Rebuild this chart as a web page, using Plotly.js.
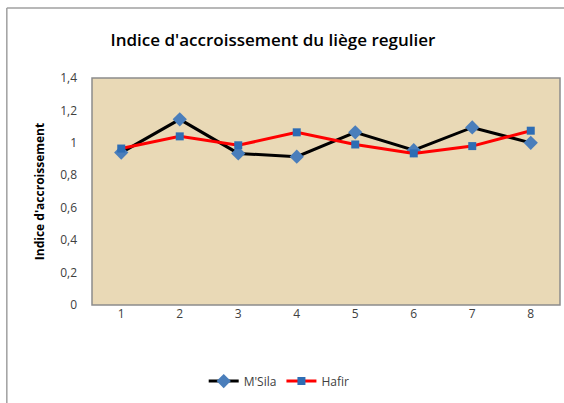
<!DOCTYPE html>
<html>
<head>
<meta charset="utf-8">
<script src="https://cdn.plot.ly/plotly-3.0.1.min.js"></script>
<style>html,body{margin:0;padding:0;background:#fff;}#chart{width:564px;height:403px;}</style>
</head>
<body>
<div id="chart"></div>
<script>
var categories = ['1','2','3','4','5','6','7','8'];
var msila = [0.94, 1.145, 0.935, 0.915, 1.065, 0.955, 1.095, 1.0];
var hafir = [0.965, 1.04, 0.985, 1.065, 0.99, 0.935, 0.98, 1.075];
var yTickVals = [0, 0.2, 0.4, 0.6, 0.8, 1, 1.2, 1.4];
var yTickText = ['0', '0,2', '0,4', '0,6', '0,8', '1', '1,2', '1,4'];

var font = 'Open Sans, Noto Sans, sans-serif';
var traces = [
  {x: categories, y: msila, name: "M'Sila", type: 'scatter', mode: 'lines+markers',
   line: {color: '#000000', width: 3},
   marker: {symbol: 'diamond', size: 11, color: '#4A7EBB'}},
  {x: categories, y: hafir, name: 'Hafir', type: 'scatter', mode: 'lines+markers',
   line: {color: '#FF0000', width: 3},
   marker: {symbol: 'square', size: 8, color: '#2E6DB4'}}
];
var layout = {
  width: 564, height: 403,
  margin: {l: 92, r: 4, t: 78, b: 98},
  paper_bgcolor: '#ffffff',
  plot_bgcolor: '#E9D9B6',
  showlegend: true,
  title: {text: "Indice d'accroissement du liège regulier", x: 0.484, xref: 'container', xanchor: 'center',
          y: 0.90, yref: 'container', yanchor: 'middle',
          font: {family: font, size: 17, color: '#000000', weight: 600}},
  xaxis: {type: 'category', range: [-0.5, 7.5], showgrid: false, zeroline: false, showline: false,
          ticks: '', tickfont: {family: font, size: 12, color: '#404040'}, fixedrange: true},
  yaxis: {range: [0, 1.4], tickvals: yTickVals, ticktext: yTickText, showgrid: false, zeroline: false,
          showline: false, ticks: '', ticklabelstandoff: 14,
          tickfont: {family: font, size: 12, color: '#404040'},
          title: {text: "Indice d'accroissement", font: {family: font, size: 12, color: '#000000', weight: 700}, standoff: 12}},
  legend: {orientation: 'h', x: 0.40, xanchor: 'center', y: -0.335, yanchor: 'middle',
           font: {family: font, size: 12, color: '#404040'}, bgcolor: 'rgba(0,0,0,0)'},
  shapes: [
    {type: 'rect', xref: 'paper', yref: 'paper', x0: 0, x1: 1, y0: 0, y1: 1,
     line: {color: '#8C8C8C', width: 1.5}, fillcolor: 'rgba(0,0,0,0)'},
    {type: 'line', xref: 'paper', yref: 'paper', x0: -0.182, x1: 1.02, y0: 1.308, y1: 1.308,
     line: {color: '#A0A0A0', width: 1.5}},
    {type: 'line', xref: 'paper', yref: 'paper', x0: -0.182, x1: -0.182, y0: 1.308, y1: -0.44,
     line: {color: '#A0A0A0', width: 1.5}}
  ]
};
Plotly.newPlot('chart', traces, layout, {displayModeBar: false, staticPlot: true});
</script>
</body>
</html>
